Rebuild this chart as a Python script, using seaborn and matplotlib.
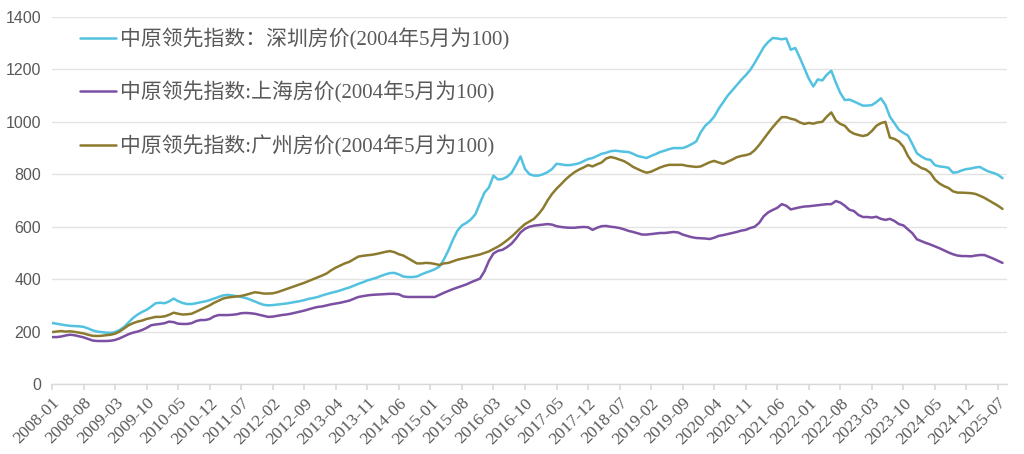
import numpy as np
import pandas as pd
import matplotlib
matplotlib.use("Agg")
import matplotlib.pyplot as plt
import seaborn as sns

months = pd.date_range("2008-01-01", periods=212, freq="MS").strftime("%Y-%m").tolist()

shenzhen = [
    233, 230, 227, 224, 222, 221, 220, 218, 212, 205, 200, 198,
    196, 195, 198, 206, 218, 235, 252, 265, 275, 283, 295, 308,
    310, 308, 315, 326, 316, 309, 305, 305, 308, 312, 315, 320,
    326, 332, 338, 340, 338, 335, 332, 328, 322, 315, 308, 302,
    300, 301, 303, 305, 307, 310, 313, 316, 320, 325, 328, 332,
    338, 343, 348, 352, 357, 363, 368, 375, 382, 388, 395, 400,
    405, 412, 418, 423, 424, 418, 410, 408, 408, 410, 418, 425,
    431, 438, 448, 475, 510, 550, 585, 605, 615, 628, 648, 690,
    730, 750, 795, 780, 782, 790, 805, 835, 868, 820, 800, 795,
    795, 800, 808, 820, 840, 838, 835, 835, 838, 842, 850, 858,
    862, 870, 878, 882, 888, 890, 888, 886, 885, 878, 870, 866,
    862, 870, 877, 885, 890, 896, 900, 900, 900, 906, 915, 925,
    960, 985, 1000, 1020, 1050, 1075, 1100, 1120, 1140, 1160, 1178, 1198,
    1225, 1255, 1285, 1305, 1320, 1318, 1315, 1318, 1275, 1282, 1245, 1205,
    1165, 1135, 1162, 1158, 1180, 1195, 1150, 1110, 1083, 1085, 1078, 1070,
    1062, 1062, 1064, 1075, 1090, 1065, 1020, 995, 970, 958, 948, 915,
    880, 868, 858, 855, 835, 830, 828, 825, 806, 808, 815, 820,
    822, 826, 828, 818, 810, 805, 798, 785,
]

shanghai = [
    179, 179, 181, 185, 188, 186, 182, 178, 172, 166, 164, 164,
    164, 165, 168, 174, 182, 190, 196, 200, 206, 214, 224, 227,
    229, 232, 238, 236, 230, 229, 229, 232, 240, 244, 244, 248,
    258, 263, 263, 263, 264, 266, 270, 271, 270, 268, 264, 260,
    256, 257, 260, 263, 265, 268, 272, 276, 280, 285, 290, 294,
    296, 300, 304, 307, 310, 314, 318, 325, 332, 335, 338, 340,
    341, 342, 343, 344, 344, 342, 334, 332, 332, 332, 332, 332,
    332, 332, 340, 348, 355, 362, 368, 374, 380, 388, 395, 402,
    430, 470, 498, 508, 512, 522, 535, 555, 578, 592, 600, 604,
    606, 608, 610, 608, 602, 599, 597, 596, 596, 598, 599, 598,
    588, 596, 602, 603, 600, 598, 595, 590, 584, 580, 575, 570,
    570, 572, 574, 576, 576, 578, 580, 578, 570, 565, 560, 557,
    556, 555, 553, 558, 565, 568, 572, 576, 580, 585, 588, 595,
    600, 615, 640, 655, 664, 672, 686, 680, 666, 670, 674, 677,
    678, 680, 682, 684, 686, 686, 698, 692, 680, 665, 660, 645,
    637, 637, 635, 638, 630, 626, 630, 622, 610, 605, 590, 575,
    552, 545, 538, 532, 525, 518, 510, 502, 495, 490, 488, 488,
    487, 490, 492, 492, 485, 478, 470, 462,
]

guangzhou = [
    198, 200, 202, 200, 201, 199, 196, 193, 188, 184, 183, 184,
    186, 188, 192, 200, 212, 224, 232, 238, 242, 248, 252, 256,
    256, 258, 264, 272, 268, 265, 266, 268, 276, 284, 292, 300,
    310, 318, 326, 330, 332, 334, 336, 340, 345, 350, 348, 345,
    345, 346, 350, 356, 362, 368, 374, 380, 386, 393, 400, 407,
    414, 422, 434, 444, 452, 460, 466, 476, 486, 489, 491, 493,
    496, 500, 504, 507, 503, 495, 490, 480, 470, 460, 460, 462,
    461, 458, 454, 460, 462, 468, 474, 478, 482, 486, 490, 494,
    500, 506, 515, 524, 535, 548, 562, 578, 595, 610, 620, 630,
    648, 670, 700, 725, 745, 762, 780, 795, 808, 818, 826, 835,
    830, 838, 845, 860, 866, 862, 856, 850, 840, 828, 820, 812,
    806, 810, 818, 826, 832, 836, 836, 836, 836, 832, 830, 828,
    830, 838, 846, 851, 845, 840, 848, 856, 865, 870, 873, 878,
    892, 912, 935, 958, 980, 1000, 1018, 1018, 1012, 1008, 998, 992,
    996, 993, 998, 1000, 1020, 1036, 1005, 992, 985, 965, 955, 950,
    946, 950, 965, 985, 995, 1000, 940, 935, 925, 905, 870, 845,
    835, 824, 818, 805, 780, 765, 755, 748, 735, 730, 730, 729,
    728, 725, 718, 710, 700, 690, 680, 668,
]

series_names = [
    "中原领先指数：深圳房价(2004年5月为100)",
    "中原领先指数:上海房价(2004年5月为100)",
    "中原领先指数:广州房价(2004年5月为100)",
]
colors = ["#52c2e0", "#7b4fa2", "#8c7a2e"]

n = min(len(months), len(shenzhen), len(shanghai), len(guangzhou))
frames = []
for name, vals in zip(series_names, [shenzhen, shanghai, guangzhou]):
    frames.append(pd.DataFrame({"idx": np.arange(n), "value": vals[:n], "series": name}))
df = pd.concat(frames, ignore_index=True)

sns.set_theme(style="white")
plt.rcParams["font.family"] = ["Liberation Serif", "Noto Sans CJK SC", "DejaVu Sans"]

fig = plt.figure(figsize=(10.24, 4.54), dpi=100)
ax = fig.add_axes([52 / 1024, 1 - 384 / 454, 955 / 1024, 367 / 454])

sns.lineplot(data=df, x="idx", y="value", hue="series", hue_order=series_names,
             palette=colors, linewidth=1.8, ax=ax, legend=True)

ax.set_xlim(0, 212)
ax.set_ylim(0, 1400)
ax.set_yticks(range(0, 1401, 200))
ax.yaxis.grid(True, color="#e3e3e3", linewidth=1.0)
ax.xaxis.grid(False)
ax.set_axisbelow(True)
for s in ["top", "right", "left"]:
    ax.spines[s].set_visible(False)
ax.spines["bottom"].set_color("#d9d9d9")
ax.spines["bottom"].set_linewidth(1.0)

xt = list(range(0, n, 7))
ax.set_xticks(xt)
ax.set_xticklabels([months[i] for i in xt], rotation=45, ha="right",
                   rotation_mode="anchor", fontsize=12.5, color="#595959",
                   family=["Liberation Serif"])
ax.tick_params(axis="x", length=4, color="#d9d9d9", pad=4, bottom=True)
ax.tick_params(axis="y", length=0, pad=8, labelsize=11.5, labelcolor="#595959")
for lab in ax.get_yticklabels():
    lab.set_family(["Liberation Sans"])
ax.set_xlabel("")
ax.set_ylabel("")

leg = ax.legend(loc="upper left", bbox_to_anchor=(28 / 955, 1 - 11 / 367),
                frameon=False, fontsize=15, labelspacing=1.5, handlelength=1.75,
                handletextpad=0.15, borderpad=0, borderaxespad=0)
for t in leg.get_texts():
    t.set_color("#595959")
for h in leg.get_lines():
    h.set_linewidth(1.8)

fig.savefig("out.png", dpi=100, facecolor="white")
